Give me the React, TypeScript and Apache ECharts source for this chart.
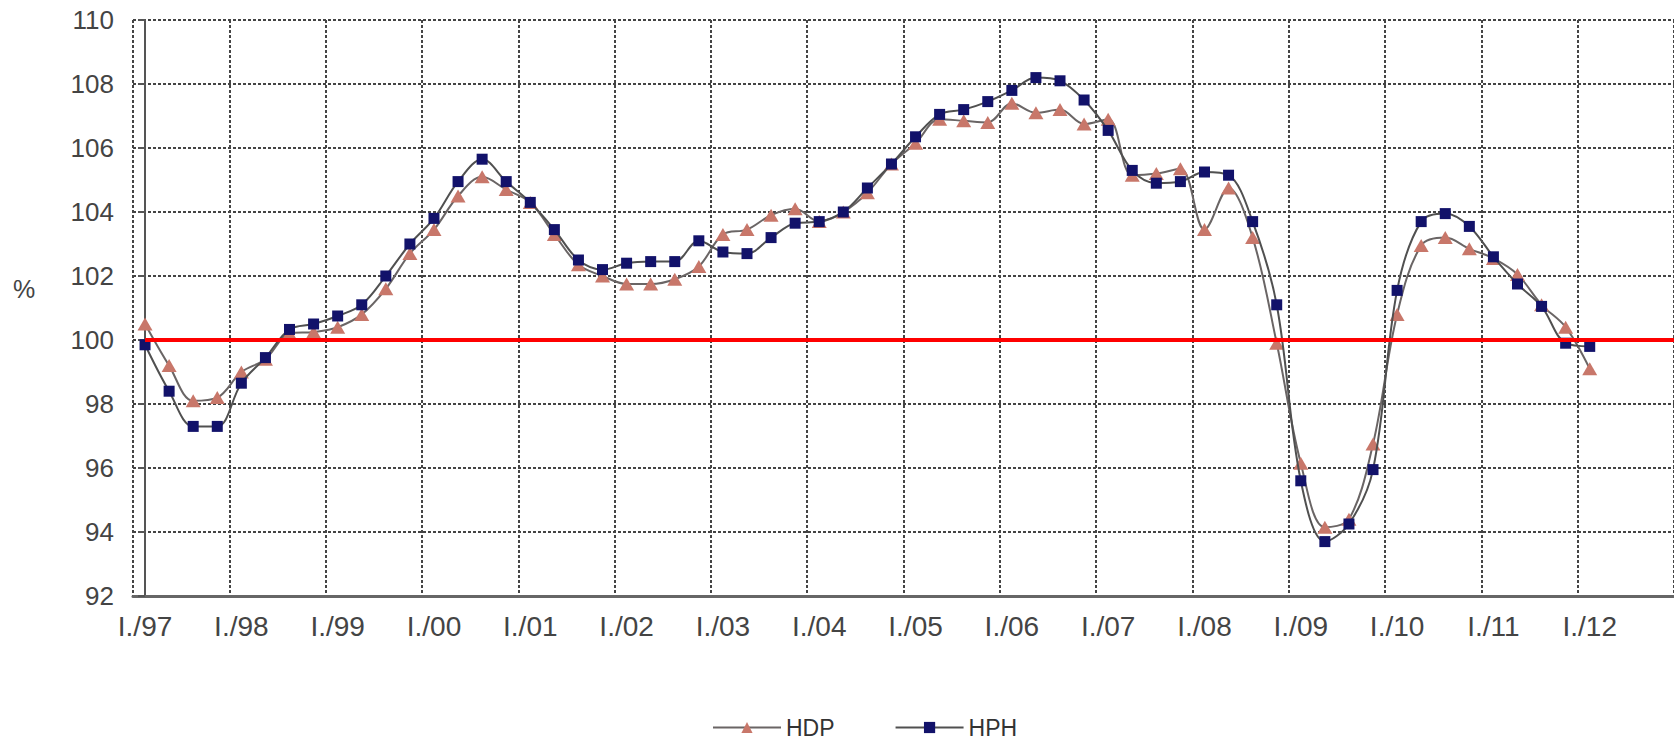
import React, { useEffect, useRef } from "react";
import * as echarts from "echarts";

const years = ["97", "98", "99", "00", "01", "02", "03", "04", "05", "06", "07", "08", "09", "10", "11", "12"];
const quarters = ["I", "II", "III", "IV"];
const categories: string[] = [];
years.forEach((y) => quarters.forEach((q) => categories.push(`${q}./${y}`)));

const hdp = [
  100.5, 99.2, 98.1, 98.2,
  99.0, 99.4, 100.2, 100.25,
  100.4, 100.8, 101.6, 102.7,
  103.45, 104.5, 105.1, 104.7,
  104.3, 103.3, 102.35, 102.0,
  101.75, 101.75, 101.9, 102.3,
  103.3, 103.45, 103.9, 104.1,
  103.7, 104.0, 104.6, 105.5,
  106.15, 106.9, 106.85, 106.8,
  107.4, 107.1, 107.2, 106.75,
  106.9, 105.15, 105.2, 105.35,
  103.45, 104.75, 103.2, 99.9,
  96.15, 94.15, 94.4, 96.75,
  100.8, 102.95, 103.2, 102.85,
  102.55, 102.05, 101.1, 100.4,
  99.1,
];

const hph = [
  99.85, 98.4, 97.3, 97.3,
  98.65, 99.45, 100.33, 100.5,
  100.75, 101.1, 102.0, 103.0,
  103.8, 104.95, 105.65, 104.95,
  104.3, 103.45, 102.5, 102.2,
  102.4, 102.45, 102.45, 103.1,
  102.75, 102.7, 103.2, 103.65,
  103.7, 104.0, 104.75, 105.5,
  106.35, 107.05, 107.2, 107.45,
  107.8, 108.2, 108.1, 107.5,
  106.55, 105.3, 104.9, 104.95,
  105.25, 105.15, 103.7, 101.1,
  95.6, 93.7, 94.25, 95.95,
  101.55, 103.7, 103.95, 103.55,
  102.6, 101.75, 101.05, 99.9,
  99.8,
];

const referenceLevel = 100;
const yTicks = { min: 92, max: 110, step: 2 };

export default function App() {
  const ref = useRef<HTMLDivElement>(null);

  useEffect(() => {
    document.body.style.margin = "0";
    if (!ref.current) return;
    const chart = echarts.init(ref.current, null, { renderer: "svg" });
    const font = "'Liberation Sans', Arial, sans-serif";
    const gridLine = { color: "#444", width: 2, type: [3, 2] as number[] };
    chart.setOption({
      animation: false,
      backgroundColor: "#ffffff",
      textStyle: { fontFamily: font },
      grid: { left: 133, right: 0, top: 20, bottom: 143, containLabel: false },
      legend: {
        data: ["HDP", "HPH"],
        left: 707,
        top: 711,
        itemWidth: 68,
        itemHeight: 14,
        itemGap: 60,
        textStyle: { fontSize: 23, lineHeight: 23, color: "#333", fontFamily: font },
      },
      graphic: [
        {
          type: "text",
          left: 13,
          top: 276,
          style: { text: "%", fontSize: 25, fill: "#444", fontFamily: font },
        },
      ],
      xAxis: [
        {
          type: "category",
          data: categories,
          boundaryGap: true,
          axisLine: { show: true, lineStyle: { color: "#666", width: 3 } },
          axisTick: { show: false },
          axisLabel: {
            interval: 3,
            fontSize: 28,
            color: "#444",
            margin: 16,
            fontFamily: font,
          },
          splitLine: { show: true, interval: 3, lineStyle: gridLine },
        },
        {
          type: "value",
          min: -0.5,
          max: categories.length - 0.5,
          show: false,
        },
      ],
      yAxis: {
        type: "value",
        min: yTicks.min,
        max: yTicks.max,
        interval: yTicks.step,
        axisLine: { show: true, lineStyle: { color: "#555", width: 2 } },
        axisTick: { show: true, length: 7, lineStyle: { color: "#555", width: 2 } },
        axisLabel: { fontSize: 26, color: "#444", margin: 19, fontFamily: font },
        splitLine: { show: true, lineStyle: gridLine },
      },
      series: [
        {
          name: "HDP",
          type: "line",
          data: hdp,
          smooth: 0.35,
          symbol: "triangle",
          symbolSize: [15, 13],
          itemStyle: { color: "#c8776a" },
          lineStyle: { color: "#6a6565", width: 2 },
          z: 3,
        },
        {
          name: "HPH",
          type: "line",
          data: hph,
          smooth: 0.35,
          symbol: "rect",
          symbolSize: 11,
          itemStyle: { color: "#12126a" },
          lineStyle: { color: "#505050", width: 2 },
          z: 4,
        },
        {
          name: "ref",
          type: "line",
          xAxisIndex: 1,
          data: [
            [0, referenceLevel],
            [categories.length - 0.5, referenceLevel],
          ],
          symbol: "none",
          lineStyle: { color: "#ff0000", width: 4 },
          silent: true,
          z: 5,
        },
      ],
    });
    return () => chart.dispose();
  }, []);

  return <div ref={ref} style={{ width: 1674, height: 739 }} />;
}
